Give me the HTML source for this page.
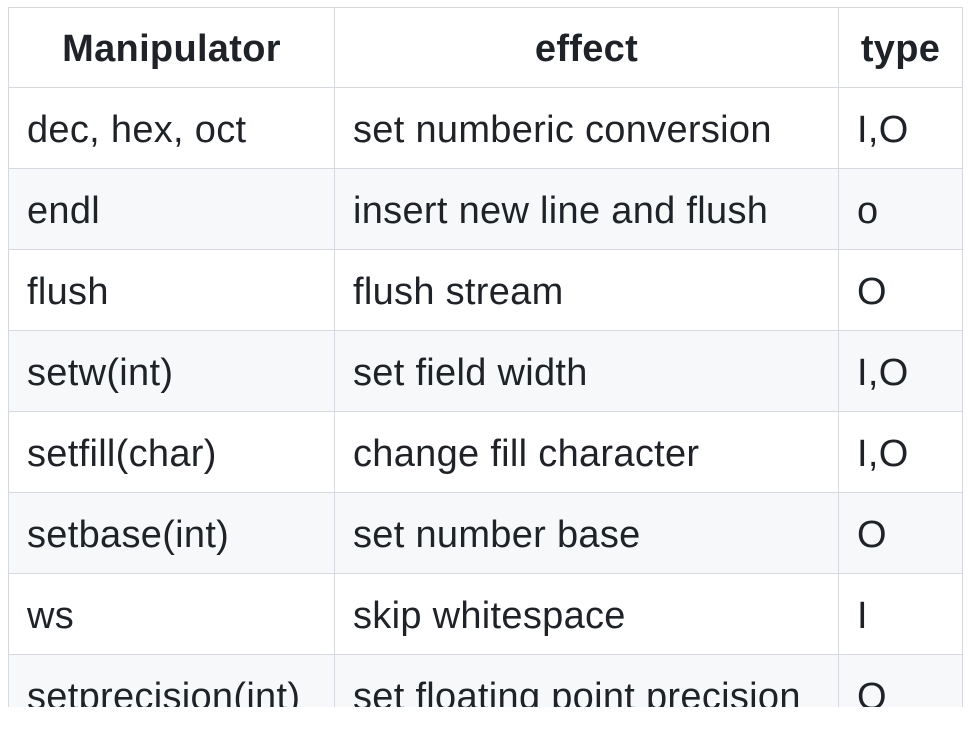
<!DOCTYPE html>
<html><head><style>
body{margin:0;width:980px;height:733px;background:#fff;overflow:hidden;position:relative;font-family:"Liberation Sans",sans-serif;color:#1f2328}
.wrap{position:absolute;left:7px;top:7px;width:956px;height:700px;overflow:hidden}
table{border-collapse:collapse;font-size:38px;letter-spacing:0.3px;table-layout:fixed;width:954px;margin-left:1px}
td,th{border:1.5px solid #d5d9df;padding:4px 0 0 18px;height:76px;line-height:76px;white-space:nowrap;text-align:left;overflow:visible}
th{text-align:center;font-weight:bold;padding:2px 0 0 0;height:77px}
tr:nth-child(odd) td{background:#f6f8fa}
</style></head><body>
<div class="wrap"><table>
<colgroup><col style="width:326px"><col style="width:504px"><col style="width:124px"></colgroup>
<tr><th>Manipulator</th><th>effect</th><th>type</th></tr>
<tr><td>dec, hex, oct</td><td>set numberic conversion</td><td>I,O</td></tr>
<tr><td>endl</td><td>insert new line and flush</td><td>o</td></tr>
<tr><td>flush</td><td>flush stream</td><td>O</td></tr>
<tr><td>setw(int)</td><td>set field width</td><td>I,O</td></tr>
<tr><td>setfill(char)</td><td>change fill character</td><td>I,O</td></tr>
<tr><td>setbase(int)</td><td>set number base</td><td>O</td></tr>
<tr><td>ws</td><td>skip whitespace</td><td>I</td></tr>
<tr><td>setprecision(int)</td><td>set floating point precision</td><td>O</td></tr>
</table></div>
</body></html>
